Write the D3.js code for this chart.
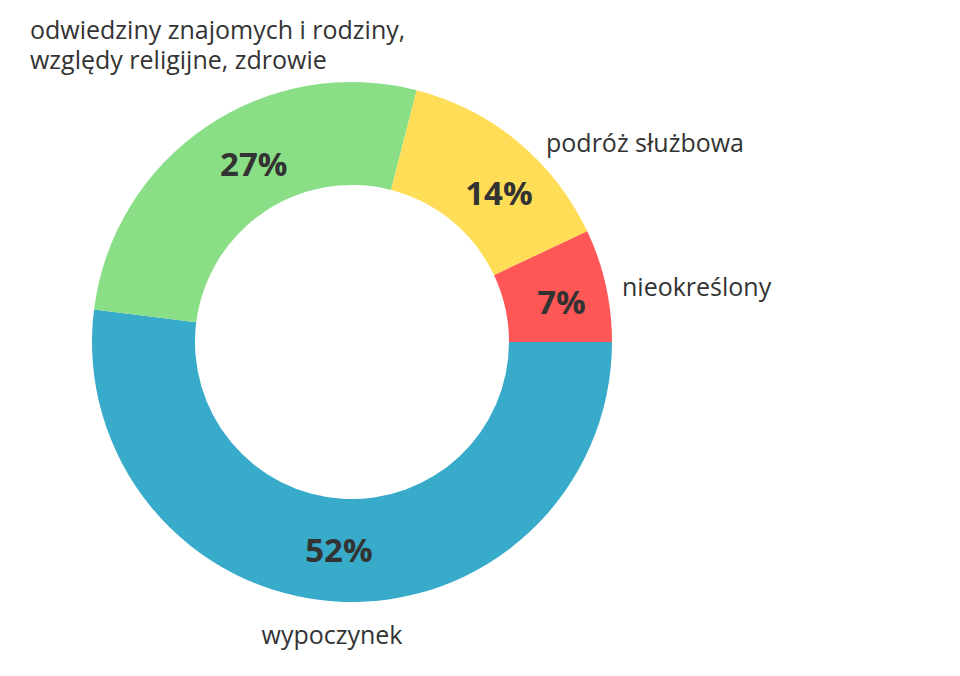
<!DOCTYPE html>
<html>
<head>
<meta charset="utf-8">
<script src="https://cdn.jsdelivr.net/npm/d3@7"></script>
<style>
  body { margin: 0; background: #fff; }
  .pct { font-family: "Open Sans", sans-serif; font-weight: 700; font-size: 33px; fill: #333; }
  .lbl { font-family: "Open Sans", sans-serif; font-size: 25px; fill: #333; }
</style>
</head>
<body>
<div class="chart"></div>
<script>
var svgWidth = 960;
var svgHeight = 676;

// data
var categories = ["wypoczynek", "odwiedziny znajomych i rodziny, względy religijne, zdrowie", "podróż służbowa", "nieokreślony"];
var values = [52, 27, 14, 7];
var colors = ["#38abca", "#89de86", "#ffdd57", "#ff5656"];
var labelLines = [
  ["wypoczynek"],
  ["odwiedziny znajomych i rodziny,", "względy religijne, zdrowie"],
  ["podróż służbowa"],
  ["nieokreślony"]
];

var cx = 352, cy = 342;
var outerR = 260, innerR = 157;

var svg = d3.select(".chart")
  .append("svg")
  .attr("width", svgWidth)
  .attr("height", svgHeight);

var g = svg.append("g")
  .attr("transform", `translate(${cx}, ${cy})`);

var pie = d3.pie()
  .sort(null)
  .startAngle(Math.PI / 2)
  .endAngle(Math.PI / 2 + 2 * Math.PI);

var arcs = pie(values);

var arc = d3.arc()
  .innerRadius(innerR)
  .outerRadius(outerR);

var labelArc = d3.arc()
  .innerRadius((innerR + outerR) / 2)
  .outerRadius((innerR + outerR) / 2);

g.selectAll("path.slice")
  .data(arcs)
  .enter()
  .append("path")
  .attr("class", "slice")
  .attr("d", arc)
  .attr("fill", (d, i) => colors[i]);

// percent labels inside ring (small nudge off the centroid, as in the original)
var pctNudge = [[0, 0], [19, -5], [14, 12], [6, 6]];

g.selectAll("text.pct")
  .data(arcs)
  .enter()
  .append("text")
  .attr("class", "pct")
  .attr("text-anchor", "middle")
  .attr("dy", "0.36em")
  .attr("x", (d, i) => labelArc.centroid(d)[0] + pctNudge[i][0])
  .attr("y", (d, i) => labelArc.centroid(d)[1] + pctNudge[i][1])
  .text(d => d.data + "%");

// outer labels, placed by hand like the original
var labelPos = [
  {x: 332, y: 635, anchor: "middle"},
  {x: 30, y: 30, anchor: "start"},
  {x: 546, y: 143, anchor: "start"},
  {x: 622, y: 287, anchor: "start"}
];

labelLines.forEach(function(lines, i) {
  var t = svg.append("text")
    .attr("class", "lbl")
    .attr("text-anchor", labelPos[i].anchor)
    .attr("x", labelPos[i].x)
    .attr("y", labelPos[i].y);
  lines.forEach(function(line, j) {
    t.append("tspan")
      .attr("x", labelPos[i].x)
      .attr("dy", j === 0 ? "0.36em" : "1.2em")
      .text(line);
  });
});
</script>
</body>
</html>
